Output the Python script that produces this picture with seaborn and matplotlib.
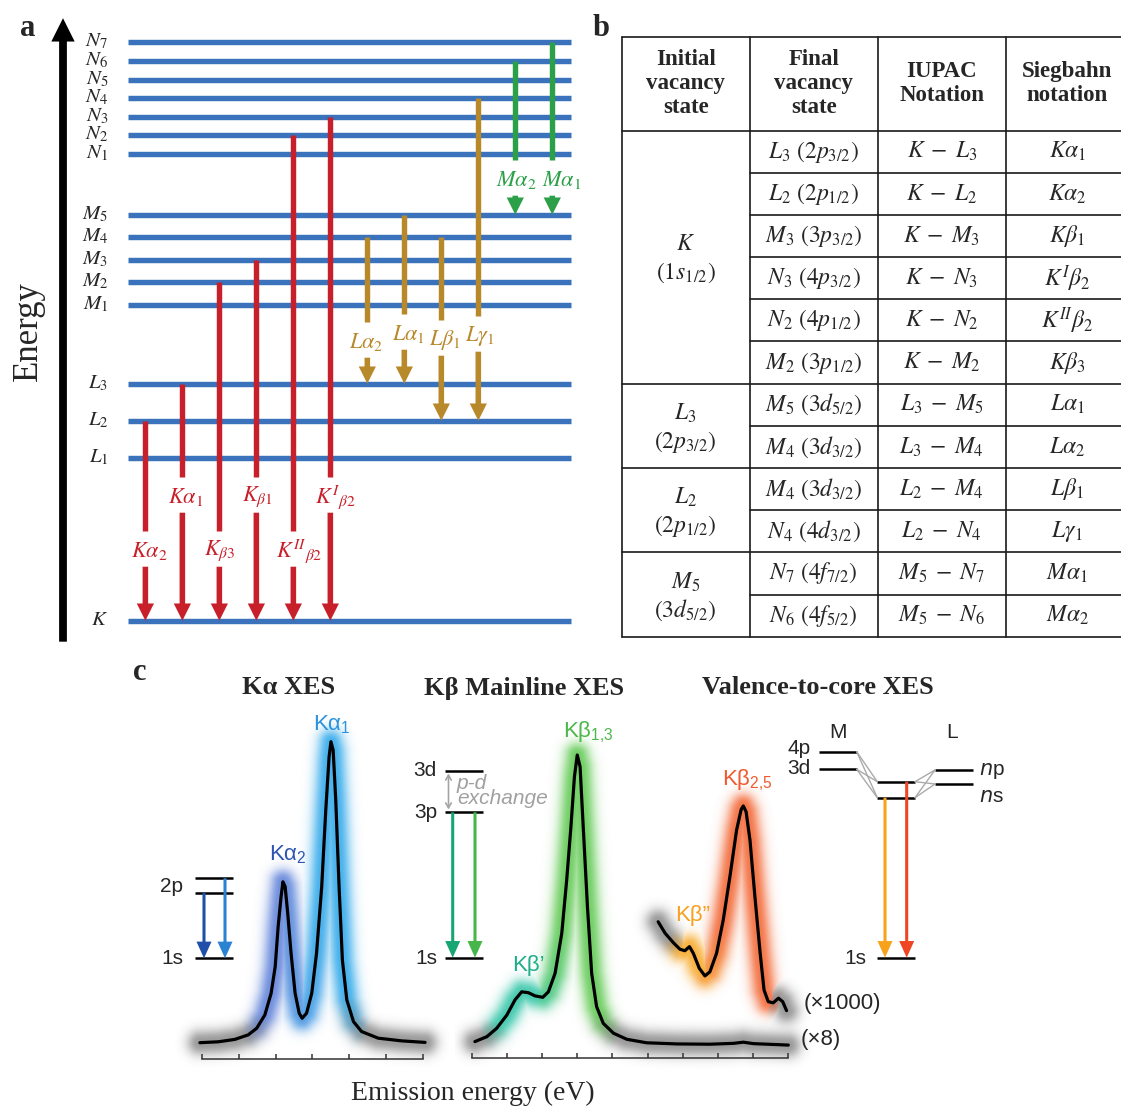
import numpy as np
import matplotlib
matplotlib.use("Agg")
import matplotlib.pyplot as plt
from matplotlib.colors import to_rgb
import seaborn as sns

# ---------------------------------------------------------------- data
# (a) schematic energy levels (arbitrary energy units above K)
level_names = ['K', 'L_1', 'L_2', 'L_3', 'M_1', 'M_2', 'M_3', 'M_4', 'M_5',
               'N_1', 'N_2', 'N_3', 'N_4', 'N_5', 'N_6', 'N_7']
level_energy = [0, 163, 200, 237, 316, 339, 361, 384, 406,
                467, 486, 504, 523, 541, 560, 579]

# (a) emission lines: electron comes from `trans_from` to fill `trans_to`
trans_from = ['L_2', 'L_3', 'M_2', 'M_3', 'N_2', 'N_3',
              'M_4', 'M_5', 'M_4', 'N_4', 'N_6', 'N_7']
trans_to = ['K', 'K', 'K', 'K', 'K', 'K',
            'L_3', 'L_3', 'L_2', 'L_2', 'M_5', 'M_5']
trans_labels = [r'K\alpha_2', r'K\alpha_1', r'K_{\beta 3}', r'K_{\beta 1}',
                r'K^{II}{}_{\beta 2}', r'K^{I}{}_{\beta 2}',
                r'L\alpha_2', r'L\alpha_1', r'L\beta_1', r'L\gamma_1',
                r'M\alpha_2', r'M\alpha_1']
trans_series = ['K'] * 6 + ['L'] * 4 + ['M'] * 2

# (b) notation table
table_header = ['Initial\nvacancy\nstate', 'Final\nvacancy\nstate',
                'IUPAC\nNotation', 'Siegbahn\nnotation']
initial_states = ['K', 'L_3', 'L_2', 'M_5']
initial_orbitals = ['(1s_{1/2})', '(2p_{3/2})', '(2p_{1/2})', '(3d_{5/2})']
initial_rows = [6, 2, 2, 2]
final_states = [r'L_3\ (2p_{3/2})', r'L_2\ (2p_{1/2})', r'M_3\ (3p_{3/2})',
                r'N_3\ (4p_{3/2})', r'N_2\ (4p_{1/2})', r'M_2\ (3p_{1/2})',
                r'M_5\ (3d_{5/2})', r'M_4\ (3d_{3/2})', r'M_4\ (3d_{3/2})',
                r'N_4\ (4d_{3/2})', r'N_7\ (4f_{7/2})', r'N_6\ (4f_{5/2})']
iupac = [r'K - L_3', r'K - L_2', r'K - M_3', r'K - N_3', r'K - N_2',
         r'K - M_2', r'L_3 - M_5', r'L_3 - M_4', r'L_2 - M_4', r'L_2 - N_4',
         r'M_5 - N_7', r'M_5 - N_6']
siegbahn = [r'K\alpha_1', r'K\alpha_2', r'K\beta_1', r'K^I\beta_2',
            r'K^{II}\beta_2', r'K\beta_3', r'L\alpha_1', r'L\alpha_2',
            r'L\beta_1', r'L\gamma_1', r'M\alpha_1', r'M\alpha_2']

# (c) spectra: energy in tick units, intensity normalised to main peak
ka_energy = [-0.05, 0.45, 0.90, 1.26, 1.49, 1.71, 1.88, 1.99, 2.07, 2.15,
             2.20, 2.26, 2.33, 2.42, 2.53, 2.64, 2.72, 2.84, 2.98, 3.11,
             3.25, 3.36, 3.45, 3.50, 3.56, 3.63, 3.72, 3.81, 3.93, 4.11,
             4.33, 4.78, 5.42, 6.05]
ka_intensity = [0.001, 0.004, 0.012, 0.027, 0.049, 0.093, 0.165, 0.253,
                0.386, 0.486, 0.535, 0.519, 0.430, 0.298, 0.165, 0.099,
                0.082, 0.099, 0.165, 0.298, 0.519, 0.773, 0.950, 1.000,
                0.972, 0.807, 0.519, 0.275, 0.143, 0.071, 0.038, 0.016,
                0.007, 0.002]

kb_energy = [0.09, 0.43, 0.71, 1.00, 1.23, 1.42, 1.61, 1.80, 2.02, 2.18,
             2.37, 2.56, 2.70, 2.82, 2.92, 3.00, 3.08, 3.17, 3.29, 3.41,
             3.55, 3.74, 4.03, 4.41, 4.97, 5.83, 6.77, 7.44, 7.72, 8.01, 9.00]
kb_intensity = [0.010, 0.027, 0.056, 0.102, 0.154, 0.182, 0.179, 0.168,
                0.163, 0.182, 0.246, 0.384, 0.568, 0.752, 0.925, 1.000,
                0.960, 0.752, 0.476, 0.246, 0.131, 0.073, 0.039, 0.018,
                0.006, 0.002, 0.001, 0.004, 0.008, 0.003, -0.002]

# valence-to-core region, magnified x1000 and lifted above the Kβ trace
vtc_energy = [5.30, 5.50, 5.73, 5.92, 6.06, 6.19, 6.30, 6.47, 6.63, 6.77,
              6.96, 7.15, 7.34, 7.53, 7.66, 7.72, 7.80, 7.91, 8.05, 8.20,
              8.31, 8.43, 8.57, 8.72, 8.84, 8.95]
vtc_intensity = [0.424, 0.384, 0.352, 0.329, 0.324, 0.338, 0.315, 0.263,
                 0.237, 0.251, 0.315, 0.430, 0.580, 0.741, 0.812, 0.824,
                 0.804, 0.706, 0.511, 0.315, 0.188, 0.148, 0.144, 0.160,
                 0.148, 0.117]

# ---------------------------------------------------------------- style
sns.set_style('white')
plt.rcParams['font.family'] = ['Liberation Serif', 'DejaVu Serif']
plt.rcParams['mathtext.fontset'] = 'stix'

W, H = 1121, 1109
fig = plt.figure(figsize=(W / 100, H / 100), dpi=100)
fig.patch.set_facecolor('white')


def px_axes(left, top, right, bottom, **kw):
    return fig.add_axes([left / W, 1 - bottom / H, (right - left) / W,
                         (bottom - top) / H], **kw)


def arrow(ax, x, y_from, y_to, color, scale, hw, hl, tw, coords='data'):
    ax.annotate('', xy=(x, y_to), xytext=(x, y_from), xycoords=coords,
                textcoords=coords,
                arrowprops=dict(arrowstyle=f'simple,head_width={hw},'
                                f'head_length={hl},tail_width={tw}',
                                mutation_scale=scale, color=color, lw=0,
                                shrinkA=0, shrinkB=0))


BLUE = '#3a72bb'
series_colors = {'K': '#c8202a', 'L': '#b8892a', 'M': '#2ca048'}

# ---------------------------------------------------------------- panel a
axa = px_axes(0, 0, 600, 650)
axa.set_xlim(-3.93, 12.29)
axa.set_ylim(-29.3, 620.7)
axa.axis('off')

E = dict(zip(level_names, level_energy))
axa.hlines(level_energy, -0.47, 11.5, color=BLUE, lw=3.9, zorder=1)
for name, en in zip(level_names, level_energy):
    axa.text(-1.0, en, f'${name}$', ha='right', va='center', fontsize=15)

label_level = [70, 124, 70, 124, 70, 124, 279, 287, 281, 285, 441, 441]
label_dx = [0.1, 0.08, 0.02, 0.02, 0.17, 0.13, -0.02, 0.1, 0.1, 0.05,
            0.04, 0.26]
for i, (a, b, lab, s) in enumerate(zip(trans_from, trans_to, trans_labels,
                                       trans_series)):
    c = series_colors[s]
    ly = label_level[i]
    axa.plot([i, i], [E[a], ly + 20], color=c, lw=3.9,
             solid_capstyle='butt', zorder=2)
    arrow(axa, i, ly - 16, E[b], c, 20, 0.62, 0.62, 0.2)
    axa.text(i + label_dx[i], ly, f'${lab}$', color=c, ha='center',
             va='center', fontsize=16)

# energy axis arrow
arrow(axa, 63 / 600, 0.0128, 0.972, 'black', 28, 0.6, 0.6, 0.2,
      coords='axes fraction')
axa.text(28 / 600, (650 - 331) / 650, 'Energy', rotation=90, ha='center',
         va='center', fontsize=25, transform=axa.transAxes)

# ---------------------------------------------------------------- panel b
axb = px_axes(621.7, 36.7, 1121, 636.7)
hdr = 93.9 / 42.17
n_rows = len(final_states)
axb.set_xlim(0, 3.9)
axb.set_ylim(hdr + n_rows, 0)
axb.axis('off')
lk = dict(color='#1a1a1a', lw=1.2, clip_on=False)
for x in [0, 1, 2, 3]:
    axb.plot([x, x], [0, hdr + n_rows], **lk)
axb.plot([0, 3.9], [0, 0], **lk)
axb.plot([0, 3.9], [hdr, hdr], **lk)
bounds = np.cumsum(initial_rows)
for k in range(1, n_rows + 1):
    x0 = 0 if k in bounds else 1
    axb.plot([x0, 3.9], [hdr + k, hdr + k], **lk)


def spaced(expr):
    # wider gaps around the binary minus
    return expr.replace(' - ', r'\;-\;')


TFS = 17
col_x = [0.5, 1.5, 2.5, 3.48]
for x, t in zip(col_x, table_header):
    axb.text(x, hdr / 2, t, ha='center', va='center', fontsize=16.5,
             weight='bold', linespacing=1.2)
for r in range(n_rows):
    y = hdr + r + 0.5
    axb.text(1.5, y, f'${final_states[r]}$', ha='center', va='center',
             fontsize=TFS)
    axb.text(2.5, y, f'${spaced(iupac[r])}$', ha='center', va='center',
             fontsize=TFS)
    axb.text(3.48, y, f'${siegbahn[r]}$', ha='center', va='center',
             fontsize=TFS)
start = 0
for st, orb, n in zip(initial_states, initial_orbitals, initial_rows):
    yc = hdr + start + n / 2
    axb.text(0.5, yc - 0.3, f'${st}$', ha='center', va='center',
             fontsize=TFS)
    axb.text(0.5, yc + 0.38, f'${orb}$', ha='center', va='center',
             fontsize=TFS)
    start += n

# ---------------------------------------------------------------- panel c
GRAY = '#3a3a3a'


def glow(ax, xs, ys, w_x, w_v, hue_x, col_a, col_b, sigma=11.0,
         a_col=0.85, a_gray=0.5):
    xs = np.asarray(xs, float)
    ys = np.asarray(ys, float)
    pts = ax.transData.transform(np.column_stack([xs, ys]))
    x0, y0, x1, y1 = ax.bbox.extents
    nx, ny = int(round(x1 - x0)), int(round(y1 - y0))
    gx = x0 + (np.arange(nx) + 0.5) * (x1 - x0) / nx
    gy = y0 + (np.arange(ny) + 0.5) * (y1 - y0) / ny
    GX, GY = np.meshgrid(gx, gy)
    best = np.full(GX.shape, np.inf)
    bx = np.zeros(GX.shape)
    for i in range(len(pts) - 1):
        p = pts[i]
        d = pts[i + 1] - p
        L2 = max(float(d @ d), 1e-9)
        t = np.clip(((GX - p[0]) * d[0] + (GY - p[1]) * d[1]) / L2, 0, 1)
        dist = np.hypot(GX - (p[0] + t * d[0]), GY - (p[1] + t * d[1]))
        m = dist < best
        best[m] = dist[m]
        bx[m] = (xs[i] + t * (xs[i + 1] - xs[i]))[m]
    w = np.interp(bx, w_x, w_v)
    h = np.interp(bx, hue_x, [0, 1])
    ca, cb, cg = (np.array(to_rgb(c)) for c in (col_a, col_b, GRAY))
    col = ca * (1 - h)[..., None] + cb * h[..., None]
    rgb = cg * (1 - w)[..., None] + col * w[..., None]
    fall = np.exp(-(np.clip(best - 2.0, 0, None) / sigma) ** 2)
    alpha = fall * (a_gray * (1 - w) + a_col * w)
    img = np.dstack([rgb, alpha])
    xl, yl = ax.get_xlim(), ax.get_ylim()
    ax.imshow(img, extent=(xl[0], xl[1], yl[0], yl[1]), origin='lower',
              aspect='auto', interpolation='bilinear', zorder=1)
    ax.set_xlim(xl)
    ax.set_ylim(yl)


def spectrum_axes(box, xlim, ylim, spine_y, n_ticks):
    ax = px_axes(*box)
    ax.set_xlim(*xlim)
    ax.set_ylim(*ylim)
    ax.patch.set_alpha(0)
    for s in ['top', 'right', 'left']:
        ax.spines[s].set_visible(False)
    sp = ax.spines['bottom']
    sp.set_position(('data', spine_y))
    sp.set_bounds(0, n_ticks)
    sp.set_linewidth(1.1)
    sp.set_color('#333333')
    ax.set_xticks(range(n_ticks + 1))
    ax.set_xticklabels([])
    ax.set_yticks([])
    ax.tick_params(axis='x', bottom=True, direction='in', length=3.6,
                   width=1.1, color='#333333')
    return ax


ax_ka = spectrum_axes((160, 690, 450, 1095), (-1.129, 6.724),
                      (-0.1726, 1.1716), -0.0541, 6)
glow(ax_ka, ka_energy, ka_intensity, [-1, 1.1, 1.7, 3.9, 4.5, 7],
     [0, 0, 1, 1, 0, 0], [2.2, 3.2], '#5a7ed8', '#2aa6ea')
sns.lineplot(x=ka_energy, y=ka_intensity, ax=ax_ka, color='black', lw=2.3,
             sort=False, zorder=3, solid_joinstyle='round')

ax_kb = spectrum_axes((455, 690, 835, 1095), (-0.475, 10.327),
                      (-0.1744, 1.2245), -0.0477, 9)
glow(ax_kb, kb_energy, kb_intensity, [-1, 0.3, 0.8, 3.6, 4.2, 10],
     [0, 0, 1, 1, 0, 0], [1.8, 2.6], '#2ec4a6', '#5cc84e')
glow(ax_kb, vtc_energy, vtc_intensity, [5, 5.55, 5.95, 8.45, 8.75, 10],
     [0, 0, 1, 1, 0, 0], [6.5, 7.1], '#f8a622', '#f2622e')
sns.lineplot(x=kb_energy, y=kb_intensity, ax=ax_kb, color='black', lw=2.3,
             sort=False, zorder=3, solid_joinstyle='round')
sns.lineplot(x=vtc_energy, y=vtc_intensity, ax=ax_kb, color='black',
             lw=2.3, sort=False, zorder=3, solid_joinstyle='round')
for ax in (ax_ka, ax_kb):
    ax.set_xlabel('')
    ax.set_ylabel('')

# schematic level diagrams and annotations
ov = fig.add_axes([0, 0, 1, 1])
ov.set_xlim(0, W)
ov.set_ylim(H, 0)
ov.axis('off')

SANS = ['Liberation Sans', 'DejaVu Sans']
lv = dict(color='black', lw=1.8)


def sans(x, y, s, size=15, **kw):
    ov.text(x, y, s, fontsize=size, family=SANS, math_fontfamily='dejavusans',
            **kw)


def small_arrow(x, y0, y1, c):
    arrow(ov, x, y0, y1, c, 10, 1.08, 1.2, 0.22)


# K-alpha scheme
ov.hlines([878.3, 892.7, 958.3], 195, 233.3, **lv)
small_arrow(204, 892.7, 958.3, '#1f4fa8')
small_arrow(225, 878.3, 958.3, '#2a82d2')
sans(183, 886, '2p', ha='right', va='center')
sans(183, 958, '1s', ha='right', va='center')

# K-beta mainline scheme
ov.hlines([770.7, 812.3, 957.7], 445, 483.3, **lv)
small_arrow(452.7, 812.3, 957.7, '#17a673')
small_arrow(475, 812.3, 957.7, '#45b649')
ov.annotate('', xy=(448.5, 773.5), xytext=(448.5, 809.5),
            arrowprops=dict(arrowstyle='<->,head_length=0.35,head_width=0.2',
                            color='#a5a5a5', lw=1.2, shrinkA=0, shrinkB=0))
sans(437, 771, '3d', ha='right', va='center')
sans(437, 813, '3p', ha='right', va='center')
sans(437, 958, '1s', ha='right', va='center')
sans(457, 791, 'p-d\nexchange', ha='left', va='center', color='#a0a0a0',
     style='italic', linespacing=0.72)

# valence-to-core scheme
ov.hlines([751.7, 769.3], 819.3, 856.7, **lv)
ov.hlines([781.7, 797.7], 877.3, 915, **lv)
ov.hlines([770, 784], 935, 972.7, **lv)
ov.hlines([957.7], 877.3, 915, **lv)
for ya in (751.7, 769.3):
    for yb in (781.7, 797.7):
        ov.plot([856.7, 877.3], [ya, yb], color='#aaaaaa', lw=1.0)
for ya in (770, 784):
    for yb in (781.7, 797.7):
        ov.plot([935, 915], [ya, yb], color='#aaaaaa', lw=1.0)
small_arrow(885, 797.7, 957.7, '#f7a21b')
small_arrow(906.7, 781.7, 957.7, '#ef4523')
sans(811, 748, '4p', ha='right', va='center')
sans(811, 768, '3d', ha='right', va='center')
sans(838, 732, 'M', ha='center', va='center')
sans(952, 732, 'L', ha='center', va='center')
sans(866, 958, '1s', ha='right', va='center')
sans(979, 771, r'$n$p', ha='left', va='center')
sans(979, 797, r'$n$s', ha='left', va='center')

# peak labels
sans(288, 855, r'$\mathdefault{K\alpha_{2}}$', size=16, ha='center',
     va='center', color='#2e56b0')
sans(332, 725, r'$\mathdefault{K\alpha_{1}}$', size=16, ha='center',
     va='center', color='#2b93dd')
sans(588, 732, r'$\mathdefault{K\beta_{1{,}3}}$', size=16, ha='center',
     va='center', color='#4cb84a')
sans(528, 965, 'Kβ’', size=16, ha='center', va='center', color='#1fae8a')
sans(747, 780, r'$\mathdefault{K\beta_{2{,}5}}$', size=16, ha='center',
     va='center', color='#f05a30')
sans(693, 915, 'Kβ”', size=16, ha='center', va='center', color='#f8a020')
sans(842, 1003, '(×1000)', size=16, ha='center', va='center')
sans(821, 1040, '(×8)', size=16, ha='center', va='center')

# titles and axis caption
ov.text(289, 688, 'Kα XES', ha='center', va='center', fontsize=19,
        weight='bold')
ov.text(524, 688, 'Kβ Mainline XES', ha='center', va='center', fontsize=19,
        weight='bold')
ov.text(818, 688, 'Valence-to-core XES', ha='center', va='center',
        fontsize=19, weight='bold')
ov.text(473, 1093, 'Emission energy (eV)', ha='center', va='center',
        fontsize=20)

# panel letters
for x, y, s in [(28, 36.5, 'a'), (601, 36, 'b'), (140, 680, 'c')]:
    ov.text(x, y, s, ha='center', va='baseline', fontsize=22, weight='bold')

fig.savefig('out.png', dpi=100)
